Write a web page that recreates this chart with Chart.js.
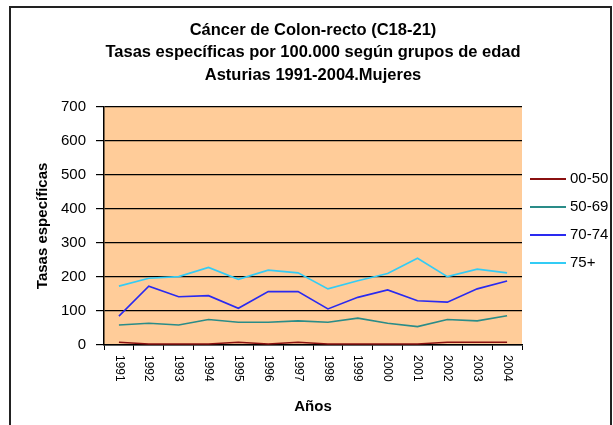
<!DOCTYPE html>
<html>
<head>
<meta charset="utf-8">
<script src="https://cdn.jsdelivr.net/npm/chart.js@4.4.0/dist/chart.umd.min.js"></script>
<style>
  html, body { margin: 0; padding: 0; background: #fff; }
  #wrap { position: relative; width: 613px; height: 425px; }
  canvas { display: block; }
</style>
</head>
<body>
<div id="wrap"><canvas id="c" width="613" height="425"></canvas></div>
<script>
const titleLines = ['Cáncer de Colon-recto (C18-21)', 'Tasas específicas por 100.000 según grupos de edad', 'Asturias 1991-2004.Mujeres'];
const years = ['1991','1992','1993','1994','1995','1996','1997','1998','1999','2000','2001','2002','2003','2004'];
const yTicks = [0, 100, 200, 300, 400, 500, 600, 700];
const seriesNames = ['00-50', '50-69', '70-74', '75+'];
const s0050 = [8, 3, 3, 3, 8, 3, 8, 3, 3, 3, 3, 8, 8, 8];
const s5069 = [59, 64, 59, 75, 67, 67, 71, 67, 79, 64, 54, 75, 71, 86];
const s7074 = [85, 173, 142, 145, 108, 157, 157, 106, 140, 162, 130, 126, 165, 188];
const s75 = [173, 196, 201, 228, 193, 220, 212, 165, 189, 210, 255, 201, 223, 212];
const colors = ['#8a1010', '#2a8c88', '#2a2af0', '#33ccf5'];

const SANS = "'Liberation Sans', Arial, sans-serif";

const plotBg = {
  id: 'plotBg',
  beforeDraw(chart) {
    const a = chart.chartArea, ctx = chart.ctx;
    ctx.save();
    ctx.fillStyle = '#ffcc99';
    ctx.fillRect(a.left, a.top, a.right - a.left, a.bottom - a.top);
    ctx.restore();
  }
};

const extras = {
  id: 'extras',
  afterDraw(chart) {
    const ctx = chart.ctx;
    const xs = chart.scales.x;
    ctx.save();
    ctx.fillStyle = '#000';
    ctx.font = '12px ' + SANS;
    ctx.textAlign = 'left';
    ctx.textBaseline = 'middle';
    years.forEach((lab, i) => {
      const x = xs.getPixelForTick(i);
      ctx.save();
      ctx.translate(x, chart.chartArea.bottom + 10);
      ctx.rotate(Math.PI / 2);
      ctx.fillText(lab, 0, 0);
      ctx.restore();
    });
    ctx.font = '15px ' + SANS;
    chart.data.datasets.forEach((ds, i) => {
      const y = 179 + i * 28;
      ctx.strokeStyle = ds.borderColor;
      ctx.lineWidth = 2;
      ctx.beginPath();
      ctx.moveTo(530, y);
      ctx.lineTo(566, y);
      ctx.stroke();
      ctx.fillStyle = '#000';
      ctx.fillText(ds.label, 570, y);
    });
    ctx.strokeStyle = '#222';
    ctx.lineWidth = 2;
    ctx.strokeRect(10, 7, 601, 440);
    ctx.restore();
  }
};

const mk = (i, data) => ({
  label: seriesNames[i], data, borderColor: colors[i], backgroundColor: colors[i],
  borderWidth: 1.6, pointRadius: 0, tension: 0, fill: false
});

new Chart(document.getElementById('c'), {
  type: 'line',
  data: {
    labels: years,
    datasets: [mk(0, s0050), mk(1, s5069), mk(2, s7074), mk(3, s75)]
  },
  plugins: [plotBg, extras],
  options: {
    responsive: false,
    animation: false,
    layout: { padding: { left: 0, right: 91, top: 0, bottom: 0 } },
    plugins: {
      legend: { display: false },
      tooltip: { enabled: false },
      title: {
        display: true, fullSize: false,
        text: titleLines, color: '#000',
        font: { family: SANS, size: 16.5, weight: 'bold', lineHeight: 1.36 },
        padding: { top: 19, bottom: 20.5 }
      }
    },
    scales: {
      x: {
        type: 'category', offset: true,
        grid: { offset: true, drawOnChartArea: false, color: '#000', tickLength: 5, lineWidth: 1 },
        border: { color: '#000', width: 1.5 },
        ticks: { color: 'rgba(0,0,0,0)', minRotation: 90, maxRotation: 90, autoSkip: false, font: { size: 12 } },
        title: { display: true, text: 'Años', color: '#000', font: { family: SANS, size: 15, weight: 'bold', lineHeight: 1.2 }, padding: { top: 4, bottom: 9 } },
        afterFit(s) { s.height = 80; }
      },
      y: {
        min: 0, max: 700,
        afterBuildTicks(s) { s.ticks = yTicks.map(v => ({ value: v })); },
        grid: { color: '#000', lineWidth: 1.2, tickLength: 8 },
        border: { color: '#000', width: 1.5 },
        ticks: { color: '#000', padding: 10, font: { family: SANS, size: 15 } },
        title: { display: true, text: 'Tasas específicas', color: '#000', font: { family: SANS, size: 15, weight: 'bold', lineHeight: 1.2 }, padding: { top: 34, bottom: 0 } },
        afterFit(s) { s.width = 104; }
      }
    }
  }
});
</script>
</body>
</html>
